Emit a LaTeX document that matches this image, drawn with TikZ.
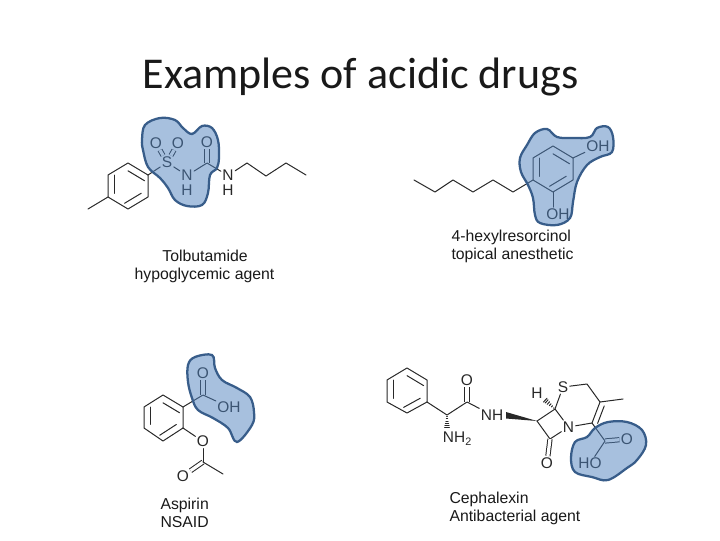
\documentclass[tikz,border=0pt]{standalone}
\usepackage{fontspec}
\setmainfont{Liberation Sans}
\newfontfamily\titlefont{Carlito}
\usetikzlibrary{calc}
\definecolor{bondgray}{RGB}{40,40,40}
\definecolor{blobfill}{RGB}{79,129,189}
\definecolor{blobline}{RGB}{56,93,138}
\tikzset{every picture/.style={line width=0.75pt}}
\tikzset{
  bond/.style={draw=bondgray,line cap=round,line join=round},
  dbl/.style={draw=bondgray,line cap=butt,double=white,double distance=2.4pt},
  atom/.style={inner sep=0.8pt,text=bondgray,font=\fontsize{11.6}{11.6}\selectfont},
  caption/.style={inner sep=0pt,anchor=base west,text=black!90,font=\fontsize{11.85}{11.85}\selectfont},
  blob/.style={draw=blobline,line width=1.7pt,fill=blobfill,fill opacity=0.5}
}
% second line of a double bond, moved towards a third point
\newcommand{\sidebond}[3]{\draw[bond] ($(#1)!.17!(#3)$) -- ($(#2)!.17!(#3)$);}
% hashed bond, narrow at the first point
\newcommand{\hashbond}[3]{\foreach \t in {.12,.3,.48,.66,.84,.98}
  \draw[bond] ($(#1)!\t!(#2)!{\t*#3}!90:(#2)$) -- ($(#1)!\t!(#2)!{-\t*#3}!90:(#2)$);}
\begin{document}
\begin{tikzpicture}[x=0.75pt,y=0.75pt,yscale=-1,xscale=1]
\useasboundingbox (0,0) rectangle (720,540);

% Title
\node (title) at (360.5,77) [inner sep=0pt,text=black!90,font=\titlefont\fontsize{33}{35}\selectfont] {Examples of acidic drugs};

%Molecule: tolbutamide
\coordinate (ta1) at (128,163); \coordinate (ta2) at (148,175); \coordinate (ta3) at (148,197);
\coordinate (ta4) at (128,209); \coordinate (ta5) at (108,197); \coordinate (ta6) at (108,175);
\coordinate (tme) at (88,209); \coordinate (tc) at (207,163);
\coordinate (tb1) at (247,163); \coordinate (tb2) at (266,176); \coordinate (tb3) at (286,163); \coordinate (tb4) at (306,175);
\node[atom] (tS) at (167,162.5) {S};
\node[atom] (tO1) at (156,143) {O};
\node[atom] (tO2) at (178,143) {O};
\node[atom] (tN1) at (187,175.5) {N};
\node[atom] (tH1) at (187,190) {H};
\node[atom] (tO3) at (207,142) {O};
\node[atom] (tN2) at (228,175.5) {N};
\node[atom] (tH2) at (228,190) {H};
\draw[bond] (ta1) -- (ta2) -- (ta3) -- (ta4) -- (ta5) -- (ta6) -- cycle;
\sidebond{ta1}{ta2}{ta4} \sidebond{ta3}{ta4}{ta6} \sidebond{ta5}{ta6}{ta2}
\draw[bond] (ta5) -- (tme);
\draw[bond] (ta2) -- (tS);
\draw[dbl] (tS) -- (tO1);
\draw[dbl] (tS) -- (tO2);
\draw[bond] (tS) -- (tN1);
\draw[bond] (tN1) -- (tc);
\draw[dbl] (tc) -- (tO3);
\draw[bond] (tc) -- (tN2);
\draw[bond] (tN2) -- (tb1) -- (tb2) -- (tb3) -- (tb4);

%Molecule: 4-hexylresorcinol
\coordinate (ha1) at (553,146); \coordinate (ha2) at (573,158); \coordinate (ha3) at (573,180);
\coordinate (ha4) at (553,192); \coordinate (ha5) at (533,180); \coordinate (ha6) at (533,158);
\coordinate (hc1) at (414,180); \coordinate (hc2) at (435,192); \coordinate (hc3) at (453,180);
\coordinate (hc4) at (473,192); \coordinate (hc5) at (493,180); \coordinate (hc6) at (513,192);
\coordinate (hOb) at (553,207);
\node[atom] (hO1) at (598,146) {OH};
\node[atom] (hO2) at (558,214.5) {OH};
\draw[bond] (ha1) -- (ha2) -- (ha3) -- (ha4) -- (ha5) -- (ha6) -- cycle;
\sidebond{ha1}{ha2}{ha4} \sidebond{ha3}{ha4}{ha6} \sidebond{ha5}{ha6}{ha2}
\draw[bond] (hc1) -- (hc2) -- (hc3) -- (hc4) -- (hc5) -- (hc6) -- (ha5);
\draw[bond] (ha2) -- (hO1);
\draw[bond] (ha4) -- (hOb);

%Molecule: aspirin
\coordinate (aa1) at (163,395); \coordinate (aa2) at (183,407); \coordinate (aa3) at (183,428);
\coordinate (aa4) at (163,441); \coordinate (aa5) at (144,428); \coordinate (aa6) at (144,407);
\coordinate (ac1) at (203,395); \coordinate (ac2) at (203,462); \coordinate (ame) at (223,474);
\node[atom] (aO1) at (203,373) {O};
\node[atom] (aO2) at (229,407) {OH};
\node[atom] (aO3) at (203,441.5) {O};
\node[atom] (aO4) at (183,476) {O};
\draw[bond] (aa1) -- (aa2) -- (aa3) -- (aa4) -- (aa5) -- (aa6) -- cycle;
\sidebond{aa1}{aa2}{aa4} \sidebond{aa3}{aa4}{aa6} \sidebond{aa5}{aa6}{aa2}
\draw[bond] (aa2) -- (ac1);
\draw[dbl] (ac1) -- (aO1);
\draw[bond] (ac1) -- (aO2);
\draw[bond] (aa3) -- (aO3);
\draw[bond] (aO3) -- (ac2);
\draw[dbl] (ac2) -- (aO4);
\draw[bond] (ac2) -- (ame);

%Molecule: cephalexin
\coordinate (ca1) at (407,368); \coordinate (ca2) at (427,380); \coordinate (ca3) at (427,402);
\coordinate (ca4) at (407,413); \coordinate (ca5) at (387,402); \coordinate (ca6) at (387,380);
\coordinate (cc1) at (447,415); \coordinate (cc2) at (467,402); \coordinate (cc3) at (537,421);
\coordinate (cc4) at (555,409); \coordinate (cc5) at (550,439); \coordinate (cc6) at (587,384);
\coordinate (cc7) at (600,402); \coordinate (cc8) at (592,423); \coordinate (cme) at (623,399);
\coordinate (cc9) at (605,441); \coordinate (cside) at (625,425); \coordinate (chb) at (447,428);
\coordinate (chh) at (545,400);
\coordinate (cw1) at (506,412); \coordinate (cw2) at (506,418.5);
\node[atom] (cO1) at (467,380) {O};
\node[atom] (cNH) at (492,415) {NH};
\node[atom] (cNa) at (457.5,438.5) {NH\textsubscript{2}};
\node[atom] (cH) at (537,393) {H};
\node[atom] (cS) at (563,387) {S};
\node[atom] (cN) at (568.5,427) {N};
\node[atom] (cO2) at (547,463) {O};
\node[atom] (cO3) at (627,439) {O};
\node[atom] (cO4) at (590,463.5) {HO};
\draw[bond] (ca1) -- (ca2) -- (ca3) -- (ca4) -- (ca5) -- (ca6) -- cycle;
\sidebond{ca1}{ca2}{ca4} \sidebond{ca3}{ca4}{ca6} \sidebond{ca5}{ca6}{ca2}
\draw[bond] (ca3) -- (cc1) -- (cc2);
\draw[dbl] (cc2) -- (cO1);
\draw[bond] (cc2) -- (cNH);
\hashbond{cc1}{chb}{1.8pt}
\fill[bondgray] (cc3) -- (cw1) -- (cw2) -- cycle;
\draw[bond] (cc3) -- (cc4);
\draw[bond] (cc4) -- (cN);
\draw[bond] (cN) -- (cc5);
\draw[bond] (cc5) -- (cc3);
\draw[dbl] (cc5) -- (cO2);
\hashbond{cc4}{chh}{2pt}
\draw[bond] (cc4) -- (cS);
\draw[bond] (cS) -- (cc6) -- (cc7) -- (cc8);
\draw[bond] (cc8) -- (cN);
\sidebond{cc7}{cc8}{cside}
\draw[bond] (cc7) -- (cme);
\draw[bond] (cc8) -- (cc9);
\draw[dbl] (cc9) -- (cO3);
\draw[bond] (cc9) -- (cO4);

%Shape: Blobs
\draw[blob] plot[smooth cycle,tension=0.6] coordinates {(145,125) (160,118) (175,120) (183,128) (192,134) (202,126) (212,128) (218,140) (219,157) (217,168) (210,175) (208,193) (202,205) (187,206) (175,200) (168,188) (160,178) (148,167) (143,150) (142,140)};
\draw[blob] plot[smooth cycle,tension=0.6] coordinates {(527,145) (535,133) (547,129) (557,137) (573,138) (590,137) (597,128) (608,127) (613,137) (612,152) (600,157) (587,165) (577,182) (573,202) (570,218) (557,225) (540,223) (535,215) (533,198) (528,185) (521,172) (520,158)};
\draw[blob] plot[smooth cycle,tension=0.6] coordinates {(188,365) (195,357) (212,355) (215,368) (222,380) (237,388) (250,397) (254,412) (252,425) (237,442) (228,428) (213,418) (198,410) (192,398) (188,382)};
\draw[blob] plot[smooth cycle,tension=0.6] coordinates {(575,442) (587,437) (595,428) (608,422) (627,422) (642,430) (646,445) (637,460) (627,468) (608,480) (592,477) (575,472) (571,458)};

% Text Node
\node[caption,anchor=base] (tname) at (205,261) {Tolbutamide};
\node[caption,anchor=base] (tuse) at (204.5,279) {hypoglycemic agent};
\node[caption] (hname) at (451,241) {4-hexylresorcinol};
\node[caption] (huse) at (451,259) {topical anesthetic};
\node[caption] (aname) at (160,509) {Aspirin};
\node[caption] (ause) at (160,527) {NSAID};
\node[caption] (cname) at (449,503) {Cephalexin};
\node[caption] (cuse) at (449,521) {Antibacterial agent};
\end{tikzpicture}
\end{document}
